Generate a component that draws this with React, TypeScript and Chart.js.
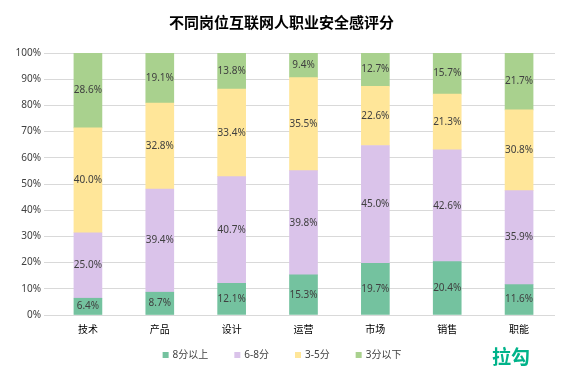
import React, { useEffect, useRef } from "react";
import { Chart, registerables } from "chart.js";

Chart.register(...registerables);

const categories = ["技术", "产品", "设计", "运营", "市场", "销售", "职能"];
const seriesNames = ["8分以上", "6-8分", "3-5分", "3分以下"];
const above8 = [6.4, 8.7, 12.1, 15.3, 19.7, 20.4, 11.6];
const from6to8 = [25.0, 39.4, 40.7, 39.8, 45.0, 42.6, 35.9];
const from3to5 = [40.0, 32.8, 33.4, 35.5, 22.6, 21.3, 30.8];
const below3 = [28.6, 19.1, 13.8, 9.4, 12.7, 15.7, 21.7];
const colors = ["#74c29f", "#dac3ea", "#ffe699", "#a9d18e"];

const FONT = "'Noto Sans', 'Noto Sans CJK SC', sans-serif";

const labelPlugin = {
  id: "segLabels",
  afterDatasetsDraw(chart: any) {
    const ctx = chart.ctx;
    ctx.save();
    ctx.font = `10px ${FONT}`;
    ctx.fillStyle = "#404040";
    ctx.textAlign = "center";
    ctx.textBaseline = "middle";
    chart.data.datasets.forEach((ds: any, i: number) => {
      const meta = chart.getDatasetMeta(i);
      meta.data.forEach((bar: any, j: number) => {
        const v = ds.data[j];
        const y = (bar.y + bar.base) / 2;
        ctx.fillText(v.toFixed(1) + "%", bar.x, y);
      });
    });
    ctx.restore();
  },
};

const legendPlugin = {
  id: "customLegend",
  afterDraw(chart: any) {
    const ctx = chart.ctx;
    ctx.save();
    ctx.font = `10px ${FONT}`;
    ctx.textBaseline = "middle";
    ctx.textAlign = "left";
    const gap = 4;
    const spacing = 26;
    const box = 6;
    const widths = seriesNames.map((n) => box + gap + ctx.measureText(n).width);
    const total = widths.reduce((a, b) => a + b, 0) + spacing * (widths.length - 1);
    let x = chart.width / 2 - total / 2;
    const y = 355;
    seriesNames.forEach((n, i) => {
      ctx.fillStyle = colors[i];
      ctx.fillRect(x, y - box / 2, box, box);
      ctx.fillStyle = "#404040";
      ctx.fillText(n, x + box + gap, y);
      x += widths[i] + spacing;
    });
    ctx.font = `bold 19px 'Noto Sans CJK SC', sans-serif`;
    ctx.fillStyle = "#00b38a";
    ctx.fillText("拉勾", 492, 357);
    ctx.restore();
  },
};

export default function App() {
  const ref = useRef<HTMLCanvasElement>(null);
  useEffect(() => {
    if (!ref.current) return;
    const data = [above8, from6to8, from3to5, below3];
    const chart = new Chart(ref.current, {
      type: "bar",
      data: {
        labels: categories,
        datasets: seriesNames.map((n, i) => ({
          label: n,
          data: data[i],
          backgroundColor: colors[i],
          borderWidth: 0,
          barThickness: 28,
        })),
      },
      options: {
        animation: false,
        responsive: false,
        layout: { padding: { left: 8, right: 9, top: 0, bottom: 52 } },
        plugins: {
          title: {
            display: true,
            text: "不同岗位互联网人职业安全感评分",
            color: "#000",
            font: { size: 15, weight: "bold", family: "'Noto Sans CJK SC', sans-serif" },
            padding: { top: 13, bottom: 22 },
          },
          legend: { display: false },
          tooltip: { enabled: false },
        },
        scales: {
          x: {
            stacked: true,
            grid: { display: false },
            border: { display: false },
            ticks: { color: "#000", padding: 1, font: { size: 10, family: FONT } },
          },
          y: {
            stacked: true,
            min: 0,
            max: 100,
            afterFit: (s: any) => { s.width = 44; },
            grid: { color: "#d9d9d9" },
            border: { display: false },
            ticks: {
              stepSize: 10,
              color: "#404040",
              font: { size: 10, family: FONT },
              callback: (v: any) => v + "%",
            },
          },
        },
      },
      plugins: [labelPlugin, legendPlugin],
    });
    return () => chart.destroy();
  }, []);
  return (
    <div style={{ position: "fixed", left: 0, top: 0, width: 564, height: 389, background: "#fff" }}>
      <canvas ref={ref} width={564} height={389} />
    </div>
  );
}
